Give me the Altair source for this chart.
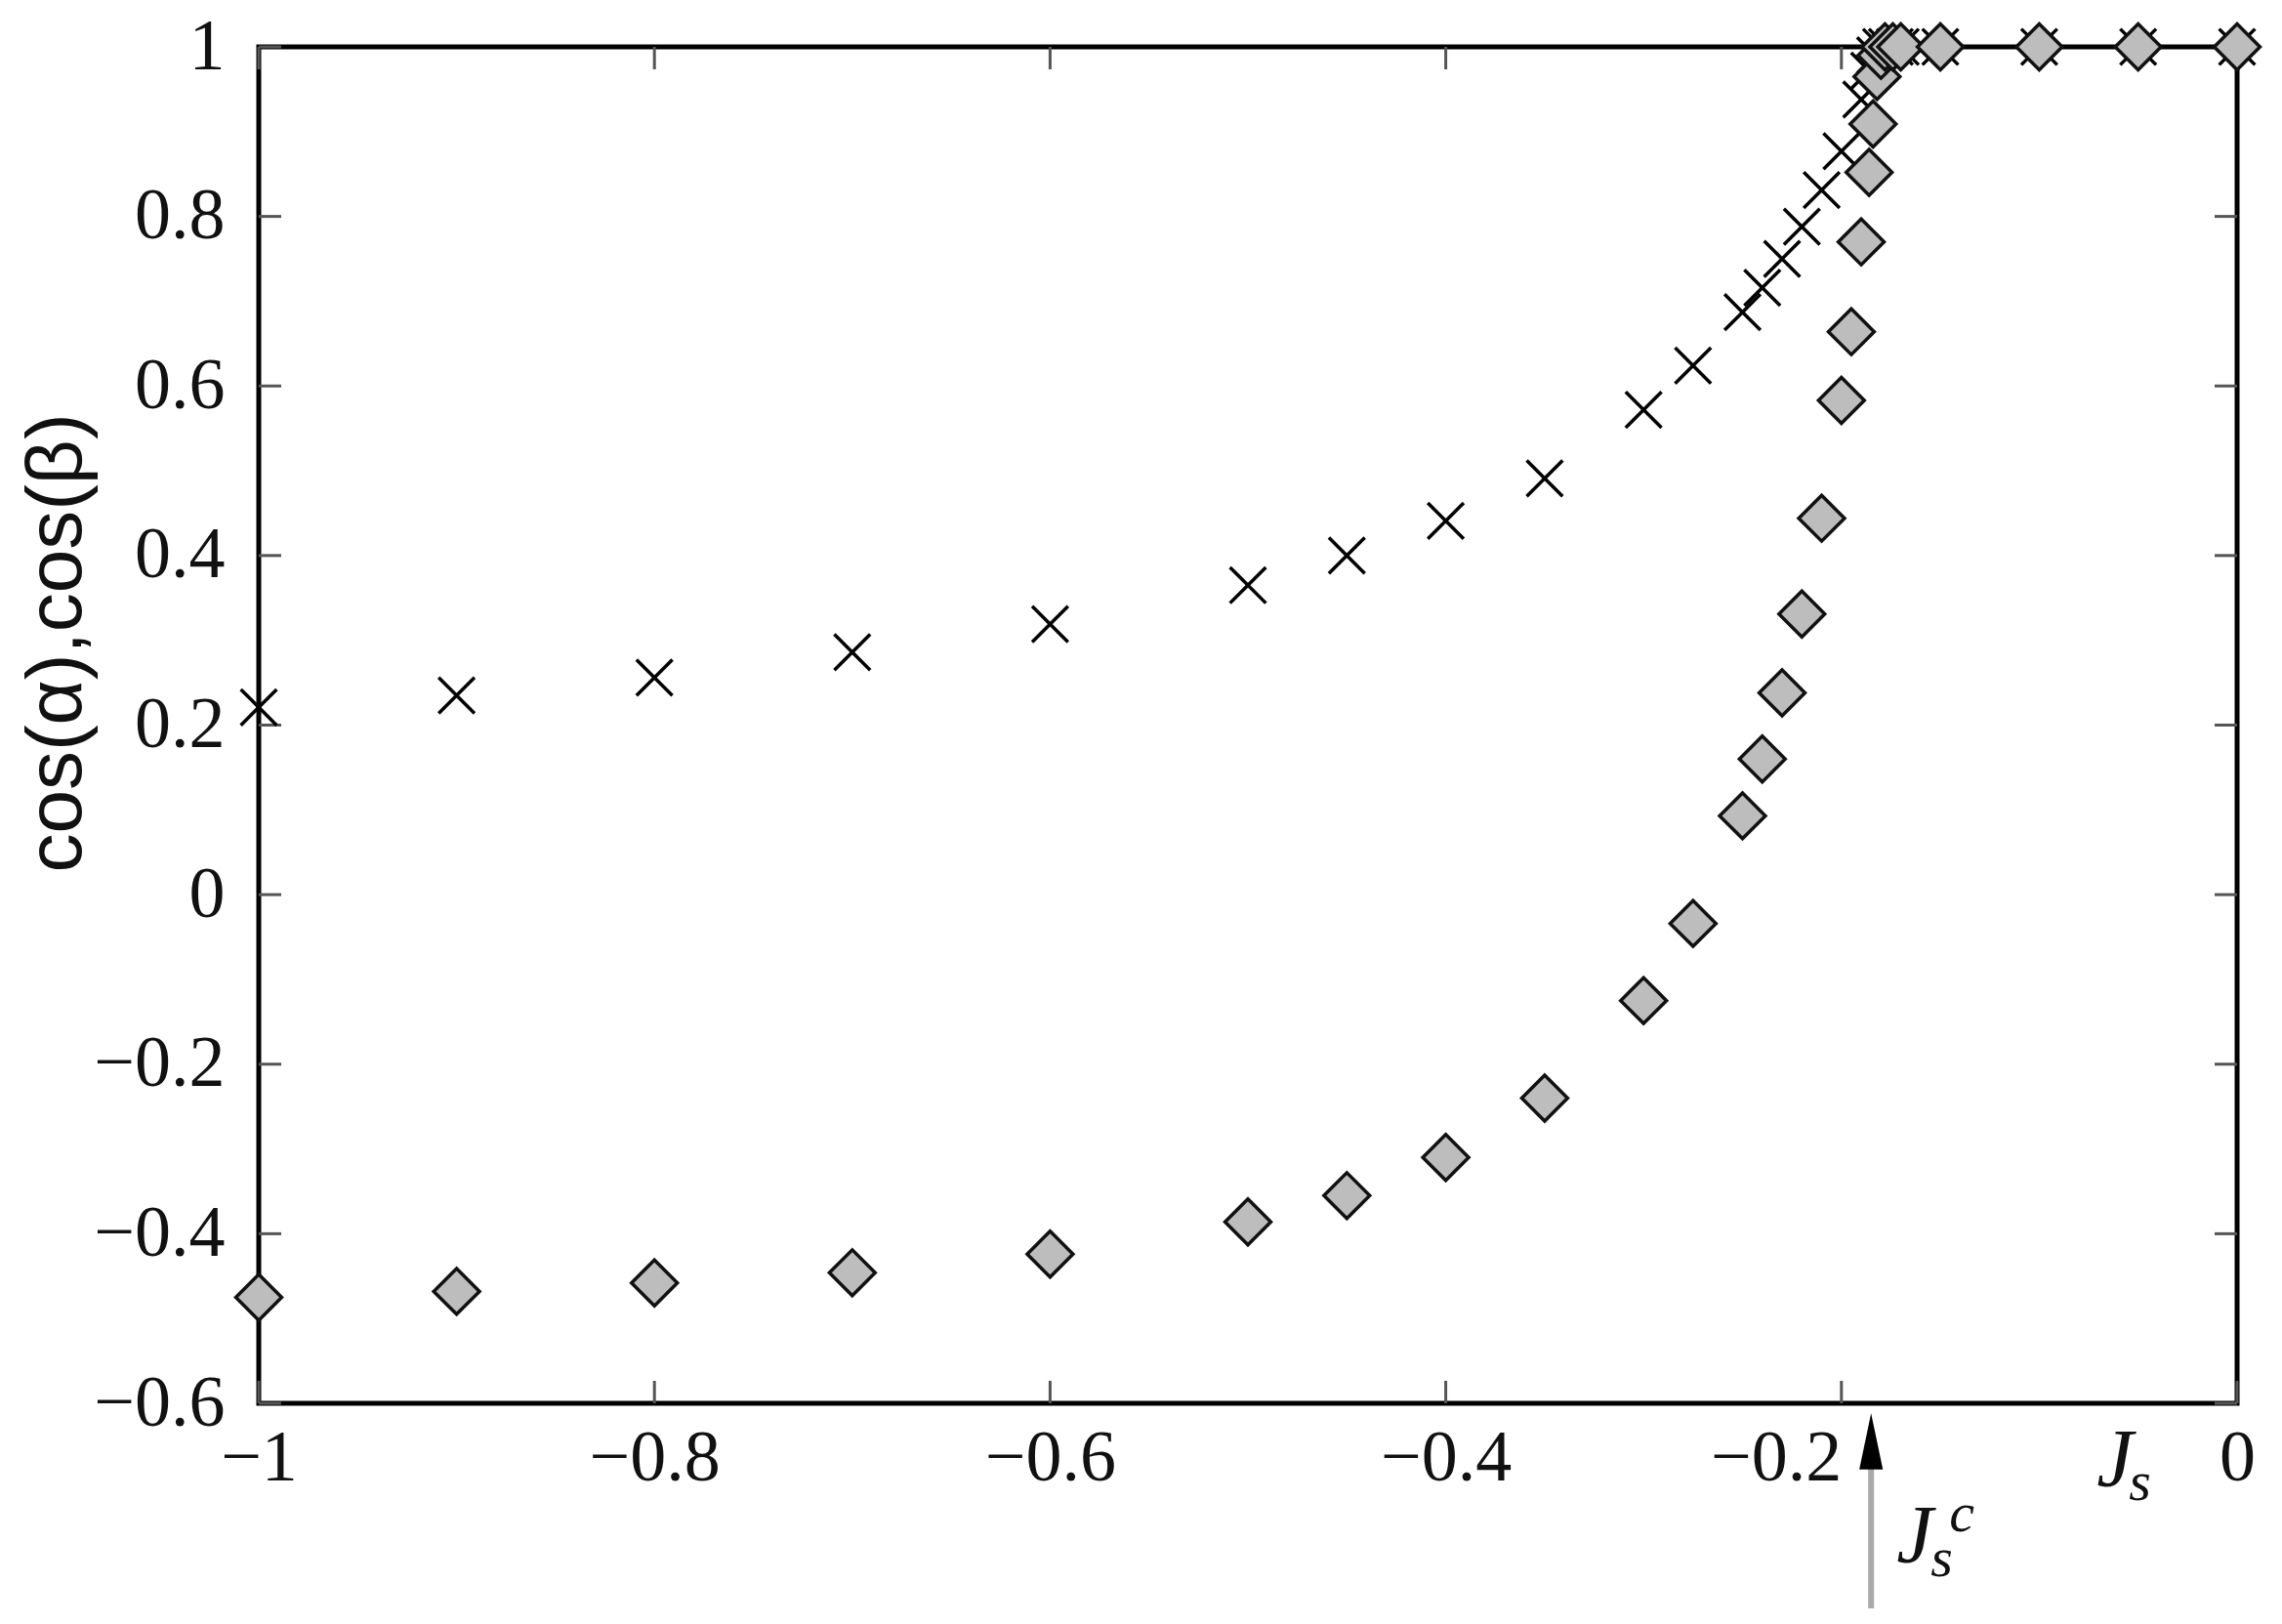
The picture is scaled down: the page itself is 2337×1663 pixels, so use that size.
import altair as alt
import pandas as pd

# ---- data ----
cross_x = [-1, -0.9, -0.8, -0.7, -0.6, -0.5, -0.45, -0.4, -0.35, -0.3, -0.275, -0.25,
           -0.24, -0.23, -0.22, -0.21, -0.2, -0.19, -0.186, -0.183, -0.18, -0.177,
           -0.173, -0.17, -0.15, -0.1, -0.05, 0]
cross_y = [0.221, 0.235, 0.256, 0.286, 0.319, 0.365, 0.400, 0.441, 0.491, 0.572, 0.624,
           0.687, 0.716, 0.750, 0.788, 0.831, 0.877, 0.938, 0.972, 0.990, 1, 1,
           1, 1, 1, 1, 1, 1]

diamond_x = [-1, -0.9, -0.8, -0.7, -0.6, -0.5, -0.45, -0.4, -0.35, -0.3, -0.275, -0.25,
             -0.24, -0.23, -0.22, -0.21, -0.2, -0.195, -0.19, -0.186, -0.184, -0.182,
             -0.18, -0.178, -0.174, -0.17, -0.15, -0.1, -0.05, 0]
diamond_y = [-0.475, -0.468, -0.458, -0.446, -0.424, -0.386, -0.355, -0.310, -0.240,
             -0.125, -0.034, 0.093, 0.160, 0.238, 0.331, 0.444, 0.583, 0.664, 0.770,
             0.852, 0.909, 0.965, 0.990, 1, 1, 1, 1, 1, 1, 1]

x_ticks = [-1, -0.8, -0.6, -0.4, -0.2, 0]
y_ticks = [-0.6, -0.4, -0.2, 0, 0.2, 0.4, 0.6, 0.8, 1]

x_domain = [-1, 0]
y_domain = [-0.6, 1]

critical_js = -0.185          # J_s^c arrow position
y_title = "cos(α),cos(β)"

# ---- layout / style ----
W, H = 2026, 1389
TICK = 23
SERIF = "'Times New Roman', 'Liberation Serif', Times, serif"
SANS = "'Liberation Sans Narrow', 'Arial Narrow', 'Liberation Sans', Arial, sans-serif"

xs = alt.Scale(domain=x_domain, nice=False, zero=False)
ys = alt.Scale(domain=y_domain, nice=False, zero=False)

xaxis = alt.Axis(values=x_ticks, format="~f", title=None, ticks=False, domain=False,
                 grid=False, labelFont=SERIF, labelFontSize=74, labelColor="#111",
                 labelPadding=20, labelFlush=False, labelOverlap=False,
                 labelAlign={"expr": "abs(datum.value + 0.2) < 1e-6 ? 'right' : 'center'"})
yaxis = alt.Axis(values=y_ticks, format="~f", title=y_title, ticks=False, domain=False,
                 grid=False, labelFont=SERIF, labelFontSize=74, labelColor="#111",
                 labelPadding=35, labelFlush=False, labelOverlap=False,
                 labelBaseline="middle",
                 titleFont=SANS, titleFontSize=80, titleFontWeight="normal",
                 titleColor="#111", titleX=-207, titleY=610, titleAngle=270,
                 titleAlign="center", titleBaseline="middle")


def X(f="x"):
    return alt.X(f"{f}:Q", scale=xs, axis=xaxis)


def Y(f="y"):
    return alt.Y(f"{f}:Q", scale=ys, axis=yaxis)


cross_df = pd.DataFrame({"x": cross_x, "y": cross_y})
diam_df = pd.DataFrame({"x": diamond_x, "y": diamond_y})
xt_df = pd.DataFrame({"x": x_ticks})
yt_df = pd.DataFrame({"y": y_ticks})

X_SHAPE = "M-1,-1L1,1M-1,1L1,-1"

crosses = alt.Chart(cross_df).mark_point(
    shape=X_SHAPE, size=1350, filled=False, stroke="#000", strokeWidth=3.5,
    opacity=1, clip=False
).encode(x=X(), y=Y())

diamonds = alt.Chart(diam_df).mark_point(
    shape="diamond", size=2200, filled=True, fill="#bdbdbd", stroke="#111",
    strokeWidth=3.5, opacity=1, clip=False
).encode(x=X(), y=Y())

tick_style = dict(color="#555", strokeWidth=3)
xt_bottom = alt.Chart(xt_df).mark_rule(**tick_style).encode(
    x=X(), y=alt.value(H), y2=alt.value(H - TICK))
xt_top = alt.Chart(xt_df).mark_rule(**tick_style).encode(
    x=X(), y=alt.value(0), y2=alt.value(TICK))
yt_left = alt.Chart(yt_df).mark_rule(**tick_style).encode(
    y=Y(), x=alt.value(0), x2=alt.value(TICK))
yt_right = alt.Chart(yt_df).mark_rule(**tick_style).encode(
    y=Y(), x=alt.value(W), x2=alt.value(W - TICK))

# x-axis label J_s
ann_df = pd.DataFrame({"x": [-0.071]})
j_main = alt.Chart(ann_df).mark_text(
    text="J", font=SERIF, fontStyle="italic", fontSize=84, align="left",
    baseline="alphabetic", color="#111"
).encode(x=X(), y=alt.value(1474))
j_sub = alt.Chart(ann_df).mark_text(
    text="s", font=SERIF, fontStyle="italic", fontSize=58, align="left",
    baseline="alphabetic", color="#111", dx=33
).encode(x=X(), y=alt.value(1488))

# arrow for J_s^c
crit_df = pd.DataFrame({"x": [critical_js]})
arrow_line = alt.Chart(crit_df).mark_rule(color="#aaaaaa", strokeWidth=6).encode(
    x=X(), y=alt.value(1450), y2=alt.value(1599))
arrow_head = alt.Chart(crit_df).mark_point(
    shape="M0,-1L0.42,1L-0.42,1Z", size=3300, filled=True, fill="#000",
    stroke=None, opacity=1, clip=False
).encode(x=X(), y=alt.value(1428))
jc_main = alt.Chart(crit_df).mark_text(
    text="J", font=SERIF, fontStyle="italic", fontSize=84, align="left",
    baseline="alphabetic", color="#111", dx=26
).encode(x=X(), y=alt.value(1552))
jc_sub = alt.Chart(crit_df).mark_text(
    text="s", font=SERIF, fontStyle="italic", fontSize=58, align="left",
    baseline="alphabetic", color="#111", dx=61
).encode(x=X(), y=alt.value(1566))
jc_sup = alt.Chart(crit_df).mark_text(
    text="c", font=SERIF, fontStyle="italic", fontSize=58, align="left",
    baseline="alphabetic", color="#111", dx=80
).encode(x=X(), y=alt.value(1520))

chart = alt.layer(
    xt_bottom, xt_top, yt_left, yt_right,
    crosses, diamonds,
    j_main, j_sub, arrow_line, arrow_head, jc_main, jc_sub, jc_sup
).properties(
    width=W, height=H,
    autosize=alt.AutoSizeParams(type="none"),
    padding={"left": 257, "top": 40, "right": 30, "bottom": 212},
    background="white",
).configure_view(
    stroke="#000", strokeWidth=5
)

chart.save("out.html", embed_options={"renderer": "svg", "actions": False})
